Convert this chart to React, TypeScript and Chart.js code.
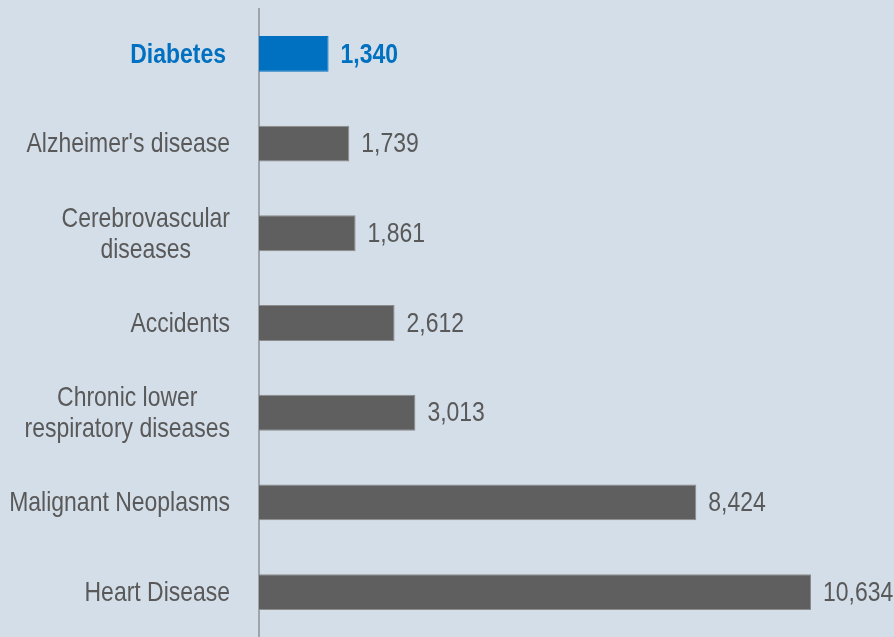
import React, { useEffect, useRef } from "react";
import { Chart, registerables } from "chart.js";

Chart.register(...registerables);

const categories: string[][] = [
  ["Diabetes"],
  ["Alzheimer's disease"],
  ["Cerebrovascular", "diseases"],
  ["Accidents"],
  ["Chronic lower", "respiratory diseases"],
  ["Malignant Neoplasms"],
  ["Heart Disease"],
];
const deaths: number[] = [1340, 1739, 1861, 2612, 3013, 8424, 10634];
const highlightIndex = 0;

const BG = "#d4dee8";
const GREY = "#5f5f5f";
const BLUE = "#0070c0";
const TEXT = "#595959";
const FONT = "'Liberation Sans', Arial, sans-serif";
const SIZE = 28;
const CONDENSE = 0.82;
const LINE_H = 31;

function drawCondensed(
  ctx: CanvasRenderingContext2D,
  text: string,
  x: number,
  y: number,
  align: "left" | "right" | "center"
) {
  ctx.save();
  ctx.translate(x, y);
  ctx.scale(CONDENSE, 1);
  ctx.textAlign = align;
  ctx.textBaseline = "middle";
  ctx.fillText(text, 0, 0);
  ctx.restore();
}

const textLabels = {
  id: "textLabels",
  afterDatasetsDraw(chart: any) {
    const ctx = chart.ctx as CanvasRenderingContext2D;
    const meta = chart.getDatasetMeta(0);
    const yScale = chart.scales.y;
    meta.data.forEach((bar: any, i: number) => {
      const hl = i === highlightIndex;
      ctx.save();
      ctx.font = `${hl ? "bold " : ""}${SIZE}px ${FONT}`;
      ctx.fillStyle = hl ? BLUE : TEXT;
      // value label
      drawCondensed(ctx, deaths[i].toLocaleString("en-US"), bar.x + 12, bar.y + 1, "left");
      // category label (block right-aligned, lines centred within block)
      const lines = categories[i];
      const cy = yScale.getPixelForValue(i);
      const rightX = chart.chartArea.left - (hl ? 33 : 29);
      const maxW = Math.max(...lines.map((ln) => ctx.measureText(ln).width * CONDENSE));
      const centerX = rightX - maxW / 2;
      lines.forEach((ln, k) => {
        const ly = cy + 1 + (k - (lines.length - 1) / 2) * LINE_H;
        drawCondensed(ctx, ln, centerX, ly, "center");
      });
      ctx.restore();
    });
  },
};

export default function App() {
  const ref = useRef<HTMLCanvasElement>(null);
  useEffect(() => {
    document.body.style.margin = "0";
    const chart = new Chart(ref.current!, {
      type: "bar",
      data: {
        labels: categories.map((c) => c.join(" ")),
        datasets: [
          {
            data: deaths,
            backgroundColor: deaths.map((_, i) => (i === highlightIndex ? BLUE : GREY)),
            borderColor: deaths.map((_, i) => (i === highlightIndex ? BLUE : "#8c8c8c")),
            borderWidth: 1,
            barPercentage: 0.4,
            categoryPercentage: 1,
          },
        ],
      },
      options: {
        indexAxis: "y",
        animation: false,
        responsive: false,
        maintainAspectRatio: false,
        layout: { padding: { top: 9, right: 83, bottom: 0, left: 0 } },
        plugins: { legend: { display: false }, tooltip: { enabled: false } },
        scales: {
          x: {
            display: false,
            min: 0,
            max: Math.max(...deaths),
          },
          y: {
            afterFit: (scale: any) => {
              scale.width = 259;
            },
            grid: { display: false, drawTicks: false },
            border: { display: true, color: "#9ea4aa", width: 2 },
            ticks: { display: false },
          },
        },
      },
      plugins: [textLabels],
    });
    return () => chart.destroy();
  }, []);
  return (
    <div style={{ position: "absolute", left: 0, top: 0, width: 894, height: 637, background: BG }}>
      <canvas ref={ref} width={894} height={637} style={{ display: "block" }} />
    </div>
  );
}
